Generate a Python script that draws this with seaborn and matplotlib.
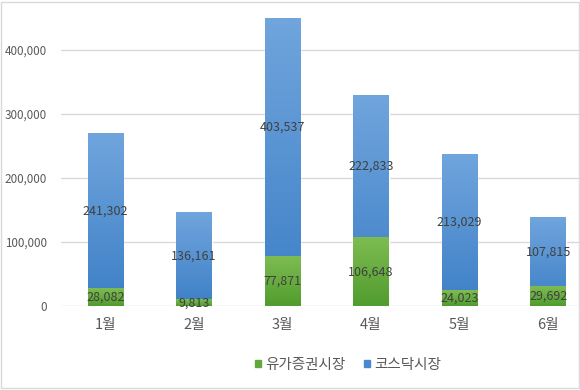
import numpy as np
import pandas as pd
import matplotlib
matplotlib.use("Agg")
import matplotlib.pyplot as plt
from matplotlib.colors import LinearSegmentedColormap
from matplotlib.patches import Rectangle
import seaborn as sns

# --- data ---
months = ["1월", "2월", "3월", "4월", "5월", "6월"]
kospi = [28082, 9813, 77871, 106648, 24023, 29692]       # 유가증권시장
kosdaq = [241302, 136161, 403537, 222833, 213029, 107815]  # 코스닥시장

df = pd.DataFrame({"month": months, "kospi": kospi, "kosdaq": kosdaq})
df["total"] = df["kospi"] + df["kosdaq"]

sns.set_theme(style="white")
plt.rcParams["font.family"] = ["Noto Sans CJK KR", "DejaVu Sans"]

fig = plt.figure(figsize=(5.8, 3.9), dpi=100)
ax = fig.add_axes([61 / 580, (390 - 306) / 390, (580 - 61) / 580, (306 - 18) / 390])
ymax = 450000

blue = "#4a89cf"
green = "#62a83a"

# total bar first (blue), then green over the bottom part
sns.barplot(data=df, x="month", y="total", color=blue, width=0.4, saturation=1, ax=ax)
sns.barplot(data=df, x="month", y="kospi", color=green, width=0.4, saturation=1, ax=ax)

# vertical gradient fill on each bar (kept inside the axes)
cmap_b = LinearSegmentedColormap.from_list("b", ["#3d7fc6", "#70a5dd"])
cmap_g = LinearSegmentedColormap.from_list("g", ["#519c2e", "#7ebc52"])
grad = np.linspace(0, 1, 256).reshape(-1, 1)
for i, p in enumerate(list(ax.patches)):
    x0, y0 = p.get_x(), p.get_y()
    w, h = p.get_width(), p.get_height()
    top = min(y0 + h, ymax)
    cm = cmap_b if i < len(months) else cmap_g
    ax.imshow(grad, cmap=cm, origin="lower", aspect="auto",
              extent=(x0, x0 + w, y0, top), zorder=p.get_zorder() + 0.1)

for i in range(len(months)):
    ax.text(i, kospi[i] / 2, f"{kospi[i]:,}", ha="center", va="center",
            fontsize=9, color="#404040", zorder=5)
    ax.text(i, kospi[i] + kosdaq[i] / 2, f"{kosdaq[i]:,}", ha="center", va="center",
            fontsize=9, color="#404040", zorder=5)

ax.set_xlim(-0.5, 5.36)
ax.set_ylim(0, ymax)
ax.set_yticks([0, 100000, 200000, 300000, 400000])
ax.yaxis.set_major_formatter(matplotlib.ticker.FuncFormatter(lambda v, _: f"{int(v):,}"))
ax.tick_params(axis="both", length=0, colors="#595959")
ax.tick_params(axis="x", pad=9, labelsize=10.5)
ax.tick_params(axis="y", pad=10, labelsize=8.4)
ax.set_xlabel("")
ax.set_ylabel("")
ax.grid(axis="y", color="#d9d9d9", linewidth=1)
ax.set_axisbelow(True)
for s in ax.spines.values():
    s.set_visible(False)

handles = [Rectangle((0, 0), 1, 1, color=green), Rectangle((0, 0), 1, 1, color=blue)]
fig.legend(handles, ["유가증권시장", "코스닥시장"], loc="center", bbox_to_anchor=(348 / 580, 1 - 365 / 390),
           ncol=2, frameon=False, fontsize=10.5, handlelength=0.4, handleheight=0.4,
           handletextpad=0.3, columnspacing=1.3, labelcolor="#595959")

# light frame around the chart area
fig.patches.append(Rectangle((0.002, 0.004), 0.996, 0.992, transform=fig.transFigure,
                             fill=False, edgecolor="#d9d9d9", linewidth=1))

fig.savefig("out.png", dpi=100)
